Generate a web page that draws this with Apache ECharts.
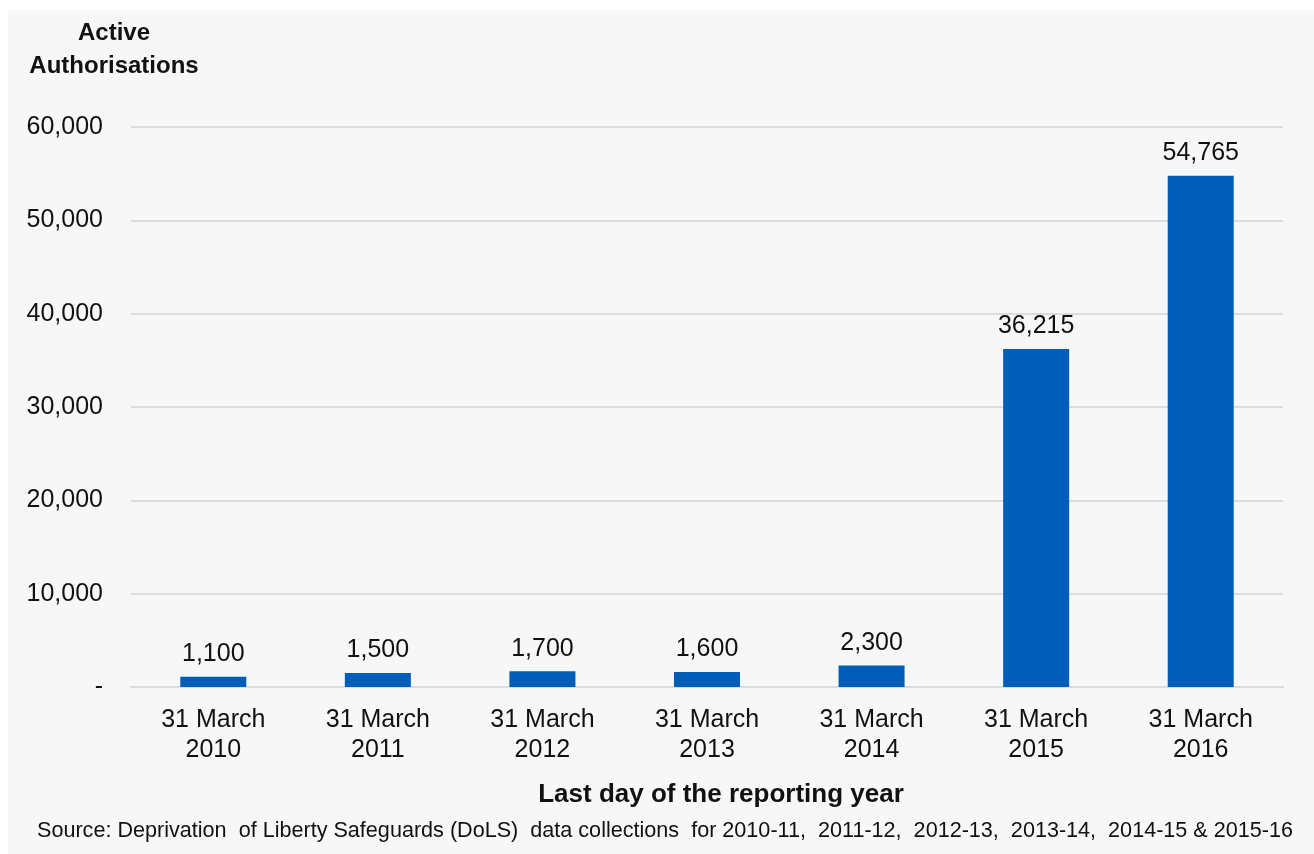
<!DOCTYPE html>
<html><head><meta charset="utf-8">
<script src="https://cdn.jsdelivr.net/npm/echarts@6/dist/echarts.min.js"></script>
<style>html,body{margin:0;padding:0;background:#fff;}#c{width:1314px;height:854px;}</style>
</head><body><div id="c"></div>
<script>
const categories = ['31 March\n2010','31 March\n2011','31 March\n2012','31 March\n2013','31 March\n2014','31 March\n2015','31 March\n2016'];
const values = [1100, 1500, 1700, 1600, 2300, 36215, 54765];
const yTicks = [0, 10000, 20000, 30000, 40000, 50000, 60000];
const yTitle = 'Active\nAuthorisations';
const xTitle = 'Last day of the reporting year';
const source = 'Source: Deprivation  of Liberty Safeguards (DoLS)  data collections  for 2010-11,  2011-12,  2012-13,  2013-14,  2014-15 & 2015-16';

const fmt = v => v === 0 ? '-' : v.toLocaleString('en-GB');
const font = "'Liberation Sans', Arial, sans-serif";
const chart = echarts.init(document.getElementById('c'), null, {renderer:'canvas'});
chart.setOption({
  animation: false,
  backgroundColor: '#ffffff',
  graphic: [
    {type:'rect', z:-10, shape:{x:8,y:10,width:1306,height:844}, style:{fill:'#f7f7f7'}},
    {type:'text', z:10, style:{x:114, y:50, text:yTitle, align:'center', verticalAlign:'middle', font:"bold 24px "+font, fill:'#111', lineHeight:33}},
    {type:'text', z:10, style:{x:721, y:795, text:xTitle, align:'center', verticalAlign:'middle', font:"bold 26px "+font, fill:'#111'}},
    {type:'text', z:10, style:{x:665, y:831, text:source, align:'center', verticalAlign:'middle', font:"21.6px "+font, fill:'#111'}}
  ],
  grid: {left:131, right:31, top:127, bottom:167, containLabel:false},
  xAxis: {
    type:'category', data:categories,
    axisLine:{show:true, lineStyle:{color:'#d9dce1', width:2}},
    axisTick:{show:false},
    axisLabel:{color:'#111', fontSize:25, fontFamily:font, lineHeight:30, margin:18}
  },
  yAxis: {
    type:'value', min:0, max:60000, interval:10000,
    axisLine:{show:false}, axisTick:{show:false},
    splitLine:{lineStyle:{color:'#d9dce1', width:2}},
    axisLabel:{color:'#111', fontSize:25, fontFamily:font, margin:28, formatter: v => fmt(v)}
  },
  series: [{
    type:'bar', data:values, barWidth:66,
    itemStyle:{color:'#005EB8'},
    label:{show:true, position:'top', distance:10, color:'#111', fontSize:25, fontFamily:font, formatter: p => fmt(p.value)}
  }]
});
</script></body></html>
